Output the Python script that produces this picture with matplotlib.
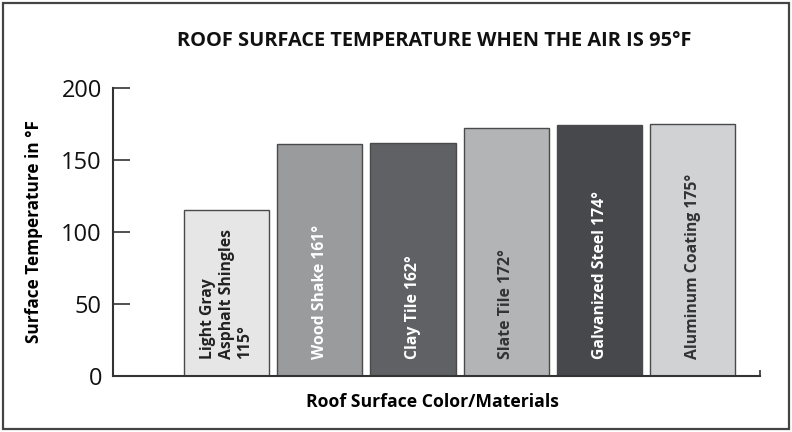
import matplotlib
matplotlib.use("Agg")
from matplotlib import pyplot as plt
from matplotlib.patches import Rectangle

materials = ['Light Gray\nAsphalt Shingles\n115°', 'Wood Shake 161°', 'Clay Tile 162°',
             'Slate Tile 172°', 'Galvanized Steel 174°', 'Aluminum Coating 175°']
temps = [115, 161, 162, 172, 174, 175]
bar_colors = ['#e6e6e7', '#9a9b9d', '#606164', '#b3b4b6', '#47484c', '#d1d2d4']
text_colors = ['#222222', '#ffffff', '#ffffff', '#333333', '#ffffff', '#333333']

plt.rcParams['font.family'] = ['Open Sans', 'DejaVu Sans']

fig = plt.figure(figsize=(7.92, 4.32), dpi=100)
fig.patches.append(Rectangle((0.004, 0.007), 0.992, 0.986, transform=fig.transFigure,
                             fill=False, edgecolor='#444444', linewidth=1.6))
ax = fig.add_axes([0.1427, 0.1296, 0.8169, 0.6667])

x = range(len(temps))
ax.bar(x, temps, width=0.914, color=bar_colors, edgecolor='#4a4a4a', linewidth=1.0)
for i, (lab, t) in enumerate(zip(materials, temps)):
    ax.text(i, 12, lab, rotation=90, ha='center', va='bottom', multialignment='left',
            color=text_colors[i], fontsize=11.3, fontweight='bold', linespacing=1.2)

ax.set_xlim(-1.218, 5.72)
ax.set_ylim(0, 200)
ax.set_yticks([0, 50, 100, 150, 200])
ax.tick_params(axis='y', direction='in', length=12, width=1.2, labelsize=17,
               color='#333333', labelcolor='#111111', pad=8)
ax.set_xticks([5.72])
ax.set_xticklabels([''])
ax.tick_params(axis='x', direction='in', length=4, width=1.2, color='#333333')
for s in ['top', 'right']:
    ax.spines[s].set_visible(False)
for s in ['left', 'bottom']:
    ax.spines[s].set_color('#333333')
    ax.spines[s].set_linewidth(1.5)

ax.set_ylabel('Surface Temperature in °F', fontsize=12.4, fontweight='bold', labelpad=13)
ax.set_xlabel('Roof Surface Color/Materials', fontsize=12.7, fontweight='bold')
ax.xaxis.set_label_coords(0.494, -0.09)
ax.xaxis.label.set_va('center')
fig.text(0.548, 0.905, 'ROOF SURFACE TEMPERATURE WHEN THE AIR IS 95°F', ha='center',
         va='center', fontsize=14.4, fontweight='bold', color='#111111')

fig.savefig('out.png', dpi=100)
